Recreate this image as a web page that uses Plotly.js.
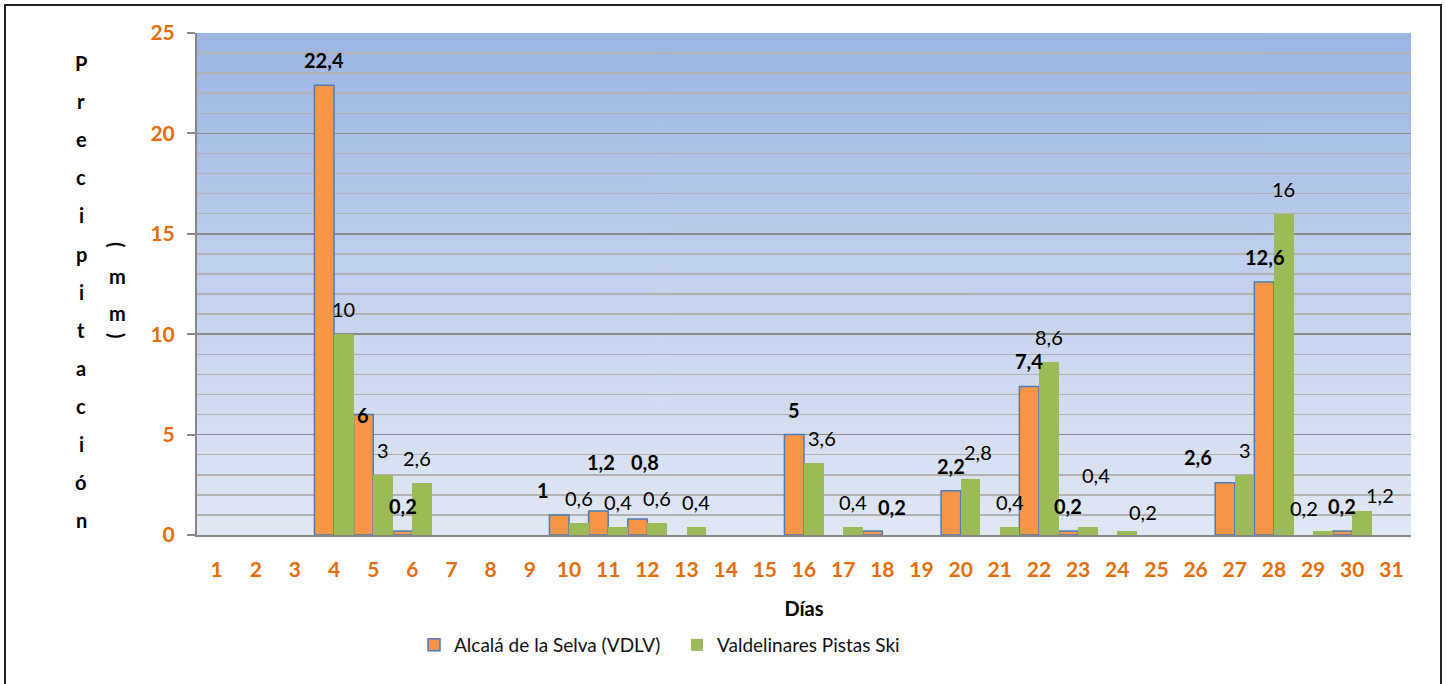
<!DOCTYPE html>
<html><head><meta charset="utf-8">
<script src="https://cdn.plot.ly/plotly-3.0.1.min.js"></script>
<style>
body{margin:0;background:#fff;overflow:hidden}
#frame{position:absolute;left:4px;top:4px;width:1434px;height:720px;border:2px solid #222;pointer-events:none;z-index:10}
</style>
</head><body>
<div id="chart" style="width:1446px;height:684px"></div>
<div id="frame"></div>
<script>
// ---- data ----
const days = [1,2,3,4,5,6,7,8,9,10,11,12,13,14,15,16,17,18,19,20,21,22,23,24,25,26,27,28,29,30,31];
const alcala = [0,0,0,22.4,6,0.2,0,0,0,1,1.2,0.8,0,0,0,5,0,0.2,0,2.2,0,7.4,0.2,0,0,0,2.6,12.6,0,0.2,0];
const valdelinares = [0,0,0,10,3,2.6,0,0,0,0.6,0.4,0.6,0.4,0,0,3.6,0.4,0,0,2.8,0.4,8.6,0.4,0.2,0,0,3,16,0.2,1.2,0];
const seriesNames = ['Alcalá de la Selva (VDLV)', 'Valdelinares Pistas Ski'];
const yTitleWord = 'Precipitación';
const xTitle = 'Días';

// ---- label nudges (pixels: [dx, dy]) ----
const orangeNudge = {5:[0,0], 10:[-16,25], 11:[3,49], 12:[7,57], 18:[19,24], 27:[-27,26]};
const greenNudge = {6:[-5,25], 16:[8,25], 20:[8,27], 23:[8,52], 24:[16,19], 29:[-19,23], 30:[18,16]};

const FONT = 'Lato, Carlito, Calibri, "Open Sans", sans-serif';
const ORANGE_TICK = '#E46C0A';

function fmt(v){ return String(v).replace('.', ','); }
function nz(arr){ return arr.map(v => v === 0 ? null : v); }

// gradient background
const cv = document.createElement('canvas');
cv.width = 4; cv.height = 256;
const cx = cv.getContext('2d');
const g = cx.createLinearGradient(0,0,0,256);
g.addColorStop(0,'#9BB5E3');
g.addColorStop(0.5,'#C3D1EC');
g.addColorStop(1,'#E1E8F4');
cx.fillStyle = g; cx.fillRect(0,0,4,256);
const bgURL = cv.toDataURL();

const traces = [
  {type:'bar', x:days, y:nz(alcala), name:seriesNames[0],
   marker:{color:'#F79646', line:{color:'#4A7EBB', width:1.5}}, hoverinfo:'x+y'},
  {type:'bar', x:days, y:nz(valdelinares), name:seriesNames[1],
   marker:{color:'#9BBB59', line:{color:'#9BBB59', width:0}}, hoverinfo:'x+y'}
];

const annotations = [];
const half = 9.8;
days.forEach((d,i) => {
  if (alcala[i] > 0) {
    const n = orangeNudge[d] || [0,25];
    annotations.push({x:d, y:alcala[i], xref:'x', yref:'y', text:'<b>'+fmt(alcala[i])+'</b>',
      showarrow:false, xshift:-half+n[0], yshift:n[1], font:{family:FONT, size:20, color:'#000'}});
  }
  if (valdelinares[i] > 0) {
    const n = greenNudge[d] || [0,25];
    annotations.push({x:d, y:valdelinares[i], xref:'x', yref:'y', text:fmt(valdelinares[i]),
      showarrow:false, xshift:half+n[0], yshift:n[1], font:{family:FONT, size:20, color:'#000'}});
  }
});

// stacked vertical y-axis title
const letters = Array.from(yTitleWord);
const yTop = 63, yStep = 38.1;
const plotTop = 33, plotH = 502, plotL = 197, plotW = 1214;
letters.forEach((ch, k) => {
  const py = yTop + k*yStep;
  annotations.push({xref:'paper', yref:'paper', x:(81-plotL)/plotW, y:(plotTop+plotH-py)/plotH,
    xanchor:'center', yanchor:'middle', text:'<b>'+ch+'</b>', showarrow:false,
    font:{family:FONT, size:20, color:'#000'}});
});
// (mm) group
const unitParts = [['(',245,90],['m',276,0],['m',313,0],[')',336,90]];
unitParts.forEach(p => {
  annotations.push({xref:'paper', yref:'paper', x:(117-plotL)/plotW, y:(plotTop+plotH-p[1])/plotH,
    xanchor:'center', yanchor:'middle', text:'<b>'+p[0]+'</b>', textangle:p[2], showarrow:false,
    font:{family:FONT, size:20, color:'#000'}});
});

const layout = {
  width:1446, height:684,
  margin:{l:197, r:35, t:33, b:149},
  paper_bgcolor:'#fff', plot_bgcolor:'rgba(0,0,0,0)',
  barmode:'group', bargap:0, bargroupgap:0,
  font:{family:FONT, color:'#000'},
  images:[{source:bgURL, xref:'paper', yref:'paper', x:0, y:1, sizex:1, sizey:1,
    sizing:'stretch', layer:'below', xanchor:'left', yanchor:'top'}],
  xaxis:{range:[0.5,31.5], tickmode:'array', tickvals:days, ticktext:days.map(String),
    showline:true, linecolor:'#878787', linewidth:2, ticks:'', showgrid:false, zeroline:false,
    tickfont:{family:FONT, size:21, color:ORANGE_TICK, weight:'bold'}, ticklabelstandoff:15,
    title:{text:'<b>'+xTitle+'</b>', font:{family:FONT, size:20, color:'#000'}, standoff:22},
    fixedrange:true},
  yaxis:{range:[0,25], dtick:5, tick0:0, showline:true, linecolor:'#878787', linewidth:2,
    ticks:'outside', ticklen:8, tickcolor:'#878787', tickwidth:2,
    showgrid:true, gridcolor:'#8A8A8A', gridwidth:1.5, zeroline:false,
    minor:{dtick:1, showgrid:true, gridcolor:'#B2B2B2', gridwidth:1.5, ticks:''},
    tickfont:{family:FONT, size:21, color:ORANGE_TICK, weight:'bold'}, ticklabelstandoff:8,
    fixedrange:true},
  legend:{orientation:'h', x:(414-plotL)/plotW, xanchor:'left', y:(plotTop+plotH-645)/plotH, yanchor:'middle',
    entrywidth:218, entrywidthmode:'pixels', font:{family:FONT, size:19, color:'#111'},
    bgcolor:'rgba(0,0,0,0)', traceorder:'normal'},
  annotations:annotations,
  showlegend:true
};

Plotly.newPlot('chart', traces, layout, {displayModeBar:false, staticPlot:true});
</script>
</body></html>
